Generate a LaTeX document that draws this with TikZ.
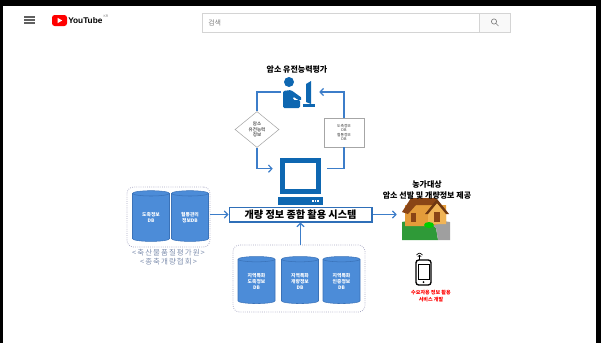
\documentclass[tikz,border=0pt]{standalone}
\usepackage{fontspec}
\setmainfont{Noto Sans CJK KR}
\newfontfamily\latin{Liberation Sans}
\usetikzlibrary{arrows.meta}
\usetikzlibrary{shapes.geometric}
\definecolor{iconblue}{HTML}{0E67B1}
\definecolor{flowblue}{HTML}{3C7DC9}
\definecolor{dbblue}{HTML}{4C8CD8}
\definecolor{dbedge}{HTML}{3A72B8}
\definecolor{grpline}{HTML}{A9A9C4}
\definecolor{orgtext}{HTML}{7F8FAE}
\definecolor{boxline}{HTML}{2F6FB8}
\definecolor{ytgray}{HTML}{606060}
\definecolor{barline}{HTML}{D4D4D4}
\definecolor{roof}{HTML}{8A4516}
\definecolor{wall}{HTML}{E49C3A}
\definecolor{gable}{HTML}{F0B456}
\definecolor{lawn}{HTML}{2F9A38}

\begin{document}
\begin{tikzpicture}[x=0.75pt,y=-0.75pt,
  db/.style={cylinder, shape border rotate=90, aspect=0.3, draw=dbedge, line width=0.4pt, fill=dbblue, text=white, align=center, inner sep=0pt, font=\bfseries\fontsize{3.6}{4.5}\selectfont},
  grp/.style={draw=grpline, densely dotted, line width=0.6pt, rounded corners=5pt},
  flow/.style={draw=flowblue, line width=0.9pt, -{Straight Barb[length=2.6pt, width=5.5pt]}},
  tag/.style={draw=gray!70, fill=white, line width=0.4pt, align=center, inner sep=0.5pt, text=black!80},
]
\def\dbw{27.75pt}
\useasboundingbox (0,0) rectangle (601,343);

% frame and header bar
\fill[black] (0,0) rectangle (601,6);
\fill[black] (0,0) rectangle (3,343);
\fill[black] (596,0) rectangle (601,343);
\foreach \yy in {17,20,23} \draw[ytgray, line width=0.9pt] (24,\yy) -- (35,\yy);
\fill[red, rounded corners=2pt] (52,15) rectangle (67,26);
\fill[white] (57.5,17.8) -- (57.5,23.2) -- (62.2,20.5) -- cycle;
\node [anchor=west, inner sep=0, font=\latin\bfseries\fontsize{6.2}{7}\selectfont, name=ytname] at (68,20.8) {YouTube};
\node [anchor=south west, inner sep=0, text=gray, font=\latin\fontsize{2.6}{3}\selectfont, name=ytkr] at ([xshift=0.5pt]ytname.north east) {KR};
\draw[barline, line width=0.5pt, fill=white] (202,13) rectangle (479,32);
\draw[barline, line width=0.5pt, fill=gray!5] (479,13) rectangle (510,32);
\node [anchor=west, text=gray, font=\fontsize{5.2}{6}\selectfont, inner sep=0, name=search] at (208,22.5) {검색};
\draw[gray, line width=0.5pt] (494,21.5) circle (2.6) (496,23.5) -- (498.5,26);

% evaluation
\node [font=\bfseries\fontsize{6}{7}\selectfont, inner sep=0, name=title] at (297,69.5) {암소 유전능력평가};
\node [minimum width=23pt, minimum height=23pt, inner sep=0, name=user] at (297,92) {};
\fill[iconblue] (289,82) circle (5);
\fill[iconblue, rounded corners=1pt] (283,91) -- (291,90) -- (302,98) -- (300,101) -- (293,96.5) -- (293,100) -- (300,100) -- (300,108) -- (283,108) -- cycle;
\fill[iconblue] (306,84) -- (311,81) -- (311,104) -- (306,102) -- cycle;
\fill[iconblue] (303,104) rectangle (315,107);

% computer
\node [minimum width=30.75pt, minimum height=27pt, inner sep=0, name=pc] at (300.5,176) {};
\fill[iconblue] (280,158) rectangle (321,194);
\fill[white] (285,163) rectangle (316,189);
\fill[iconblue] (278,197) rectangle (323,205);
\foreach \xx in {312,314.5,317} \fill[white] (\xx,200) rectangle +(1.6,2);

% feedback loop
\node [diamond, draw=gray!70, fill=white, line width=0.4pt, minimum width=33pt, minimum height=27pt, inner sep=0pt, align=center, font=\fontsize{3.4}{4}\selectfont, name=gene] at (257,129.5) {암소\\유전능력\\정보};
\node [tag, minimum width=30pt, minimum height=21.75pt, font=\fontsize{2.8}{3.4}\selectfont, name=dbinfo] at (344,132.5) {도축정보\\DB\\혈통정보\\DB};
\draw[flow] (user.west) -| (gene) |- ([xshift=-5.25pt,yshift=5.5pt]pc.west);
\draw[flow] ([xshift=4.5pt,yshift=5.5pt]pc.east) -| (dbinfo) |- ([xshift=5pt]user.east);

% system
\node [draw=boxline, line width=1pt, fill=white, minimum width=107pt, minimum height=11pt, inner sep=0, font=\bfseries\fontsize{7.6}{9}\selectfont, name=sys] at (300.5,214.5) {개량 정보 종합 활용 시스템};

% national databases
\node [grp, minimum width=62.25pt, minimum height=45pt, name=lgrp] at (168.5,217) {};
\node [db, minimum width=\dbw, minimum height=38pt, name=db1] at (151,217.5) {도축정보\\DB};
\node [db, minimum width=\dbw, minimum height=38pt, name=db2] at (190,217.5) {혈통관리\\정보DB};
\node [text=orgtext, font=\addfontfeature{LetterSpace=14}\fontsize{5.6}{7}\selectfont, align=center, anchor=north, inner sep=0, name=org] at (168.5,249) {<축산물품질평가원>\\<종축개량협회>};
\draw[flow] (lgrp.east |- sys.west) -- (sys.west);

% regional databases
\node [grp, minimum width=99pt, minimum height=50.25pt, name=bgrp] at (299,278.5) {};
\node [db, minimum width=\dbw, minimum height=35.25pt, name=db3] at (256.5,281.5) {지역특화\\도축정보\\DB};
\node [db, minimum width=\dbw, minimum height=35.25pt, name=db4] at (300,281.5) {지역특화\\개량정보\\DB};
\node [db, minimum width=\dbw, minimum height=35.25pt, name=db5] at (341.5,281.5) {지역특화\\인증정보\\DB};
\draw[flow] (bgrp.north -| sys.south) -- (sys.south);

% farm
\node [minimum width=36pt, minimum height=32pt, inner sep=0, name=home] at (426,219) {};
\fill[lawn] (402,222) -- (424,218) -- (436,228) -- (438,240) -- (402,240) -- cycle;
\fill[gray!75] (424,218) -- (450,222) -- (450,240) -- (438,240) -- (436,228) -- cycle;
\fill[wall] (405,205) -- (446,205) -- (446,222) -- (430,226) -- (405,226) -- cycle;
\fill[roof] (402,212) -- (411,198) -- (436,198) -- (440,205) -- (416,205) -- (408,214) -- cycle;
\fill[gable] (428,214) -- (437,203) -- (446,214) -- (446,224) -- (428,224) -- cycle;
\fill[roof!80!black] (425,214) -- (437,199) -- (449,214) -- (446,214) -- (437,203) -- (428,214) -- cycle;
\fill[roof] (434,212) rectangle (440,222);
\fill[roof] (411,213) rectangle (416,222);
\fill[green!80!black] (429,225) ellipse [x radius=5, y radius=3];
\node [font=\bfseries\fontsize{6}{7.6}\selectfont, align=center, inner sep=0, name=farm] at (427,190) {농가대상\\암소 선발 및 개량정보 제공};
\draw[flow] (sys.east) -- ([xshift=-3.75pt]home.west |- sys.east);

% mobile service
\node [minimum width=12pt, minimum height=19pt, inner sep=0, name=phone] at (423.5,272.5) {};
\draw[black, line width=1pt, rounded corners=2pt, fill=white] (416,260) rectangle (431,285);
\draw[black, line width=0.5pt] (418,264) rectangle (429,279);
\fill[black] (423.5,282) circle (1);
\draw[black, line width=0.6pt] (419.5,260) -- (419.5,256);
\draw[black, line width=0.5pt] (416.5,255) .. controls (419.5,252.5) .. (422.5,255);
\draw[black, line width=0.5pt] (417.8,256.5) .. controls (419.5,255) .. (421.2,256.5);
\node [text=red, font=\bfseries\fontsize{3.8}{5.2}\selectfont, align=center, anchor=north, inner sep=0, name=app] at (431,290) {수요자용 정보 활용\\서비스 개발};
\end{tikzpicture}
\end{document}
